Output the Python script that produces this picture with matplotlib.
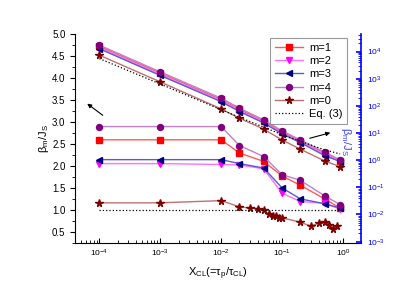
import numpy as np
import matplotlib
matplotlib.use('Agg')
import matplotlib.pyplot as plt

plt.rcParams['font.family'] = ['Liberation Sans', 'DejaVu Sans']
plt.rcParams['mathtext.fontset'] = 'custom'
plt.rcParams['mathtext.rm'] = 'Liberation Sans'
plt.rcParams['mathtext.it'] = 'Liberation Sans:italic'
plt.rcParams['mathtext.default'] = 'regular'

# данные
x = [1e-4, 1e-3, 1e-2, 2e-2, 5e-2, 0.1, 0.2, 0.5, 0.9]
x0 = [1e-4, 1e-3, 1e-2, 0.02, 0.03, 0.04, 0.05, 0.06, 0.07, 0.08, 0.09,
      0.1, 0.2, 0.3, 0.4, 0.5, 0.6, 0.7, 0.8]

# нижняя группа (левая ось, beta_m/J_S)
beta1 = [2.59, 2.59, 2.59, 2.29, 2.10, 1.77, 1.56, 1.25, 1.04]
beta2 = [2.05, 2.05, 2.03, 2.02, 1.93, 1.38, 1.19, 1.15, 1.02]
beta3 = [2.14, 2.14, 2.14, 2.05, 1.95, 1.50, 1.25, 1.14, 1.04]
beta4 = [2.89, 2.89, 2.89, 2.46, 2.21, 1.80, 1.67, 1.32, 1.12]
beta0 = [1.16, 1.16, 1.21, 1.07, 1.04, 1.03, 1.00, 0.91, 0.85, 0.87, 0.82,
         0.82, 0.72, 0.63, 0.70, 0.72, 0.66, 0.57, 0.64]
eq_low_x = [1e-4, 0.9]
eq_low = [1.0, 1.0]

# верхняя группа (правая ось, лог)
rho4 = [1.72e4, 1.79e3, 192, 82.2, 30.5, 12.0, 5.60, 1.97, 1.03]
rho1 = [1.55e4, 1.60e3, 172, 74.0, 27.5, 10.9, 5.10, 1.82, 0.97]
rho2 = [1.40e4, 1.45e3, 157, 67.5, 25.2, 10.0, 4.75, 1.66, 0.93]
rho3 = [1.27e4, 1.32e3, 143, 62.0, 23.5, 9.3, 4.45, 1.48, 0.89]
rho0 = [7.36e3, 766, 77.4, 35.2, 13.9, 5.60, 2.54, 0.94, 0.58]
eq_up_x = [1e-4, 1e-3, 1e-2, 0.1, 0.2, 0.5, 0.9]
eq_up = [5.5e3, 640, 72, 8.7, 5.0, 2.4, 1.7]

styles = [('m=1', beta1, rho1, 's', 'red', '#ff5a5a'),
          ('m=2', beta2, rho2, 'v', 'magenta', '#ff70ff'),
          ('m=3', beta3, rho3, '<', 'navy', '#5a5ad0'),
          ('m=4', beta4, rho4, 'o', 'purple', '#c080c8')]

fig = plt.figure(figsize=(4.2, 2.92), dpi=100)
ax = fig.add_axes([0.179, 0.168, 0.681, 0.717])
ax2 = ax.twinx()

handles = []
for lab, b, r, mk, mc, lc in styles:
    h, = ax.plot(x, b, color=lc, lw=1, marker=mk, ms=4.3, mfc=mc, mec=mc,
                 label=lab)
    ax2.plot(x, r, color=lc, lw=1, marker=mk, ms=4.3, mfc=mc, mec=mc)
    handles.append(h)
h, = ax.plot(x0, beta0, color='#c07070', lw=1, marker='*', ms=5.5,
             mfc='#800000', mec='#800000', label='m=0')
ax2.plot(x, rho0, color='#c07070', lw=1, marker='*', ms=5.5,
         mfc='#800000', mec='#800000')
handles.append(h)
h, = ax.plot(eq_low_x, eq_low, color='black', lw=0.9, ls=':', label='Eq. (3)')
ax2.plot(eq_up_x, eq_up, color='black', lw=0.9, ls=':')
handles.append(h)

# левая ось
ax.set_xscale('log')
ax.set_xlim(4e-5, 2)
ax.set_ylim(0.25, 5.0)
ax.set_yticks(np.arange(0.5, 5.01, 0.5))
ax.set_yticks(np.arange(0.25, 5.01, 0.25), minor=True)
ax.yaxis.set_major_formatter(matplotlib.ticker.FormatStrFormatter('%.1f'))
ax.tick_params(axis='y', direction='out', labelsize=7, length=3.5, width=0.8)
ax.tick_params(axis='y', which='minor', direction='out', length=2)
ax.tick_params(axis='x', which='both', direction='in', labelsize=6)
ax.tick_params(axis='x', which='major', length=3.5, width=0.8)
ax.tick_params(axis='x', which='minor', length=2)
ax.set_xlabel(r'X$_{CL}$(=$\tau_p$/$\tau_{CL}$)', fontsize=8, labelpad=5)
ax.set_ylabel(r'$\beta_m$/J$_S$', fontsize=8, labelpad=1)
ax.spines['top'].set_visible(False)
ax.spines['right'].set_visible(False)

# правая ось
ax2.set_yscale('log')
ax2.set_ylim(10 ** -3.048, 10 ** 4.663)
ax2.set_yticks([1e-3, 1e-2, 1e-1, 1, 10, 100, 1e3, 1e4])
ax2.tick_params(axis='y', which='both', direction='in', colors='blue',
                labelsize=6, pad=4)
ax2.tick_params(axis='y', which='major', length=3.5, width=1.2)
ax2.tick_params(axis='y', which='minor', length=2)
for s in ['top', 'left', 'bottom']:
    ax2.spines[s].set_visible(False)
ax2.spines['right'].set_color('blue')
ax2.spines['right'].set_linewidth(1.2)
fig.text(346 / 420, 1 - 141 / 292, r'$\beta_m$/J$_S$', rotation=-90,
         color='#4040ff', fontsize=8, ha='center', va='center')

# стрелки
ax2.annotate('', xy=(85, 190), xytext=(105, 175), xycoords='figure pixels',
             textcoords='figure pixels',
             arrowprops=dict(arrowstyle='-|>', color='black', lw=0.8,
                             mutation_scale=6))
ax2.annotate('', xy=(333, 160), xytext=(307, 153), xycoords='figure pixels',
             textcoords='figure pixels',
             arrowprops=dict(arrowstyle='-|>', color='black', lw=0.8,
                             mutation_scale=6))

leg = ax2.legend(handles=handles, loc='upper right',
                 bbox_to_anchor=(353 / 420, 1 - 32 / 292),
                 bbox_transform=fig.transFigure, fontsize=8,
                 fancybox=False, edgecolor='gray', handlelength=2.6,
                 labelspacing=0.3, borderpad=0.45, handletextpad=0.5)
leg.get_frame().set_linewidth(0.8)

fig.savefig('out.png', dpi=100)
